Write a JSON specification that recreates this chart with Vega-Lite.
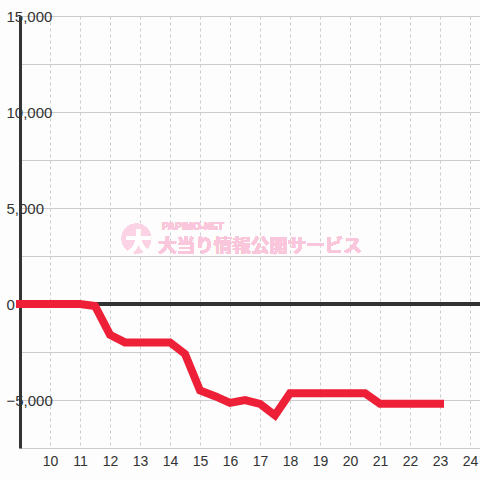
{
  "$schema": "https://vega.github.io/schema/vega-lite/v6.json",
  "width": 460,
  "height": 432,
  "autosize": {"type": "none"},
  "padding": {"left": 20, "top": 16, "right": 0, "bottom": 32},
  "background": "#fcfdfc",
  "config": {"view": {"stroke": null}, "font": "Liberation Sans"},
  "data": {
    "values": [
      {"x": 9, "y": 0}, {"x": 9.5, "y": 0}, {"x": 10, "y": 0}, {"x": 10.5, "y": 0},
      {"x": 11, "y": 0}, {"x": 11.5, "y": -100}, {"x": 12, "y": -1600}, {"x": 12.5, "y": -2000},
      {"x": 13, "y": -2000}, {"x": 13.5, "y": -2000}, {"x": 14, "y": -2000}, {"x": 14.5, "y": -2600},
      {"x": 15, "y": -4500}, {"x": 15.5, "y": -4800}, {"x": 16, "y": -5150}, {"x": 16.5, "y": -5000},
      {"x": 17, "y": -5200}, {"x": 17.5, "y": -5800}, {"x": 18, "y": -4650}, {"x": 18.5, "y": -4650},
      {"x": 19, "y": -4650}, {"x": 19.5, "y": -4650}, {"x": 20, "y": -4650}, {"x": 20.5, "y": -4650},
      {"x": 21, "y": -5200}, {"x": 21.5, "y": -5200}, {"x": 22, "y": -5200}, {"x": 22.5, "y": -5200},
      {"x": 23, "y": -5200}
    ]
  },
  "encoding": {
    "x": {
      "field": "x", "type": "quantitative",
      "scale": {"domain": [9, 24.333], "nice": false, "zero": false},
      "axis": {
        "title": null, "values": [10,11,12,13,14,15,16,17,18,19,20,21,22,23,24],
        "domain": false, "ticks": false, "grid": true, "gridColor": "#cccccc", "gridDash": [3, 3],
        "labelFontSize": 14, "labelColor": "#333333", "labelPadding": 6, "labelFlush": false
      }
    },
    "y": {
      "field": "y", "type": "quantitative",
      "scale": {"domain": [-7500, 15000], "nice": false},
      "axis": {
        "title": null, "values": [-7500,-5000,-2500,0,2500,5000,7500,10000,12500,15000],
        "labelExpr": "datum.value % 5000 == 0 ? format(datum.value, ',') : ''",
        "domain": true, "domainColor": "#333333", "domainWidth": 3,
        "ticks": false, "grid": true, "gridColor": "#cccccc",
        "labelFontSize": 15, "labelColor": "#333333", "labelAlign": "left",
        "labelPadding": 14, "labelFlush": false
      }
    }
  },
  "layer": [
    {
      "mark": {"type": "rule", "color": "#333333", "strokeWidth": 3},
      "encoding": {"y": {"datum": 0, "type": "quantitative"}, "x": null}
    },
    {
      "mark": {"type": "point", "filled": true, "shape": "circle", "color": "#fcd3e5", "opacity": 1, "size": 860},
      "encoding": {"x": {"datum": 12.88, "type": "quantitative"}, "y": {"datum": 3410, "type": "quantitative"}}
    },
    {
      "mark": {"type": "text", "text": "大", "color": "#ffffff", "font": "Noto Sans CJK JP", "fontWeight": "bold", "fontSize": 26, "baseline": "middle", "align": "center"},
      "encoding": {"x": {"datum": 12.95, "type": "quantitative"}, "y": {"datum": 3150, "type": "quantitative"}}
    },
    {
      "mark": {"type": "text", "text": "大当り情報公開サービス", "color": "#f9c6dc", "font": "Noto Sans CJK JP", "fontWeight": "bold", "fontSize": 18.5, "baseline": "middle", "align": "center"},
      "encoding": {"x": {"datum": 17.0, "type": "quantitative"}, "y": {"datum": 3000, "type": "quantitative"}}
    },
    {
      "mark": {"type": "text", "text": "PAPIMO-NET", "color": "#f9c6dc", "fontWeight": "bold", "fontSize": 10, "baseline": "middle", "align": "left", "letterSpacing": 2},
      "encoding": {"x": {"datum": 13.73, "type": "quantitative"}, "y": {"datum": 4010, "type": "quantitative"}}
    },
    {
      "mark": {"type": "line", "color": "#ee2037", "strokeWidth": 8, "strokeCap": "square", "strokeJoin": "miter", "clip": false}
    }
  ]
}
